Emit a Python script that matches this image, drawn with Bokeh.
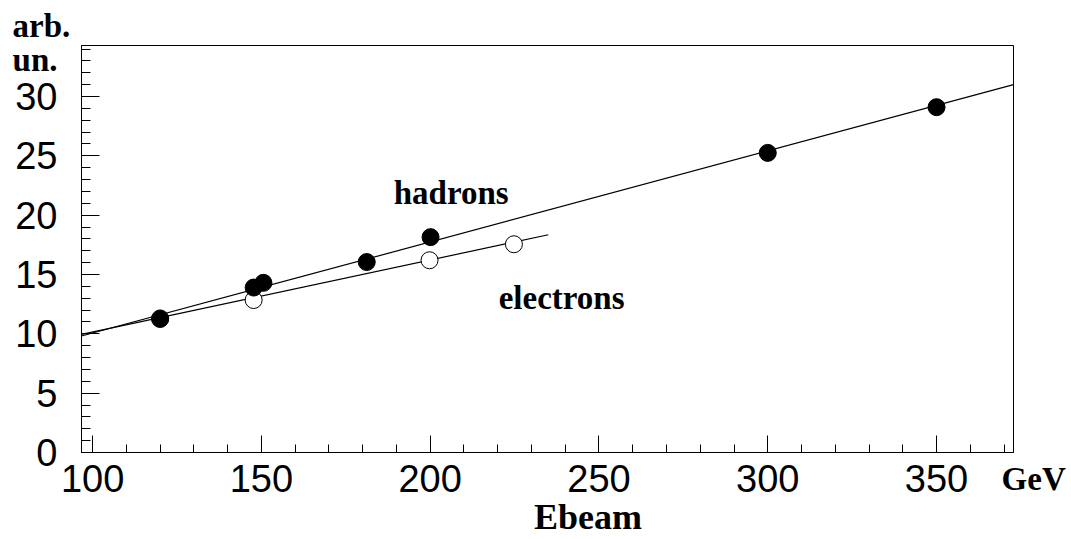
from bokeh.plotting import figure
from bokeh.models import (Range1d, SingleIntervalTicker, Label, LinearAxis, FixedTicker,
                          Title)
from bokeh.embed import file_html
from bokeh.resources import INLINE

# data
hadron_E = [120, 147.7, 150.6, 181.2, 200.1, 300, 350]
hadron_y = [11.25, 13.9, 14.3, 16.05, 18.15, 25.25, 29.1]
electron_E = [120, 147.7, 199.8, 224.8]
electron_y = [11.3, 12.85, 16.2, 17.55]
hadron_fit_x = [96.7, 372.8]
hadron_fit_y = [9.82, 31.0]
electron_fit_x = [96.7, 235.0]
electron_fit_y = [9.95, 18.35]

x_lo, x_hi = 96.7, 372.8
y_lo, y_hi = 0.0, 34.3

p = figure(width=1071, height=539, output_backend="svg", toolbar_location=None,
           x_range=Range1d(x_lo, x_hi), y_range=Range1d(y_lo, y_hi),
           min_border_left=81, min_border_right=58, min_border_top=45, min_border_bottom=87)
p.background_fill_color = "white"
p.border_fill_color = "white"
p.outline_line_color = "black"
p.outline_line_width = 1
p.xgrid.visible = False
p.ygrid.visible = False

p.xaxis.ticker = SingleIntervalTicker(interval=50, num_minor_ticks=5)
p.yaxis.ticker = SingleIntervalTicker(interval=5, num_minor_ticks=5)
for ax in (p.xaxis, p.yaxis):
    ax.axis_line_color = "black"
    ax.axis_line_width = 1
    ax.major_tick_line_color = "black"
    ax.minor_tick_line_color = "black"
    ax.major_tick_out = 0
    ax.minor_tick_out = 0
    ax.major_label_text_font = "Liberation Sans"
    ax.major_label_text_font_size = "38px"
    ax.major_label_text_color = "black"
p.xaxis.major_tick_in = 17
p.xaxis.minor_tick_in = 8
p.yaxis.major_tick_in = 18
p.yaxis.minor_tick_in = 9
p.xaxis.major_label_standoff = 12
p.yaxis.major_label_standoff = 24

p.line(hadron_fit_x, hadron_fit_y, line_color="black", line_width=1.2)
p.line(electron_fit_x, electron_fit_y, line_color="black", line_width=1.2)
p.scatter(electron_E, electron_y, marker="circle", size=17, fill_color="white",
          line_color="black", line_width=1)
p.scatter(hadron_E, hadron_y, marker="circle", size=17, fill_color="black",
          line_color="black", line_width=1)

SERIF = "Liberation Serif"

def lab(x, y, t, size="33px"):
    p.add_layout(Label(x=x, y=y, text=t, text_font=SERIF,
                       text_font_style="bold", text_font_size=size, text_color="black",
                       text_align="left", text_baseline="alphabetic"))

lab(189.2, 21.9, "hadrons")
lab(220.3, 13.04, "electrons")

# texts outside the frame, as single-label axes stacked in the side panels
def text_axis(side, tick, text, standoff, size="33px"):
    ax = LinearAxis(ticker=FixedTicker(ticks=[tick], minor_ticks=[]),
                    major_label_overrides={tick: text},
                    major_label_standoff=standoff,
                    major_tick_in=0, major_tick_out=0, minor_tick_in=0, minor_tick_out=0,
                    axis_line_color=None, major_tick_line_color=None,
                    minor_tick_line_color=None,
                    major_label_text_font=SERIF,
                    major_label_text_font_style="bold",
                    major_label_text_font_size=size, major_label_text_color="black")
    p.add_layout(ax, side)

text_axis("left", 33.04, "un.", -45)
text_axis("below", 369.0, "\u00a0" * 8 + "GeV", -34)
text_axis("below", 246.75, "Ebeam", -3, size="36px")

# unit text above the frame, as a title
p.add_layout(Title(text="arb.", align="left", offset=-69, standoff=4,
                   vertical_align="bottom", text_font=SERIF, text_font_style="bold",
                   text_font_size="33px", text_color="black"), "above")

open("out.html", "w").write(file_html(p, INLINE))
